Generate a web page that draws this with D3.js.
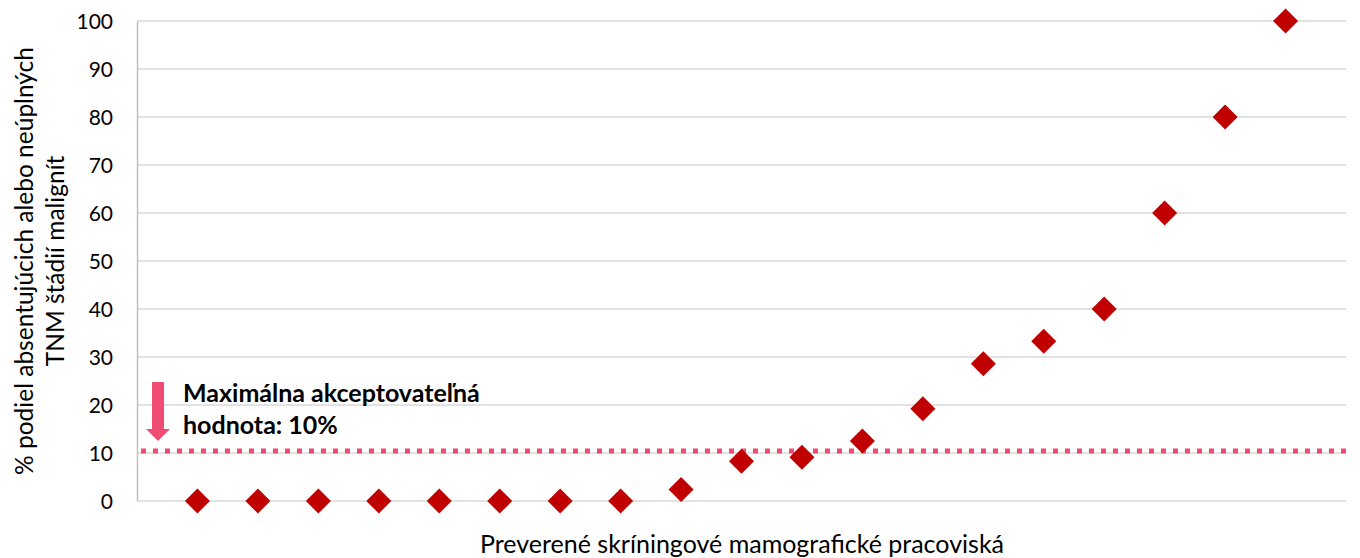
<!DOCTYPE html>
<html>
<head>
<meta charset="utf-8">
<script src="https://cdn.jsdelivr.net/npm/d3@7"></script>
<style>
  body { margin: 0; background: #fff; }
  svg { font-family: Lato, "Open Sans", sans-serif; }
</style>
</head>
<body>
<svg id="chart" width="1360" height="558"></svg>
<script>
// data
var sites = d3.range(1, 20);   // 19 screening sites
var shares = [0, 0, 0, 0, 0, 0, 0, 0, 2.4, 8.3, 9.1, 12.5, 19.2, 28.6, 33.3, 40, 60, 80, 100];
var yTicks = [0, 10, 20, 30, 40, 50, 60, 70, 80, 90, 100];
var limitLine = [10.4];
var yTitle = ["% podiel absentujúcich alebo neúplných", "TNM štádií malignít"];
var xTitle = "Preverené skríningové mamografické pracoviská";
var note = ["Maximálna akceptovateľná", "hodnota: 10%"];

var svg = d3.select("#chart");
var m = { left: 137, right: 1346, top: 21, bottom: 501 };

var x = d3.scalePoint().domain(sites).range([m.left, m.right]).padding(1);
var y = d3.scaleLinear().domain([0, 100]).range([m.bottom, m.top]);

// grid
svg.append("g").selectAll("line")
  .data(yTicks.slice(1))
  .enter().append("line")
  .attr("x1", m.left).attr("x2", m.right)
  .attr("y1", function(d) { return y(d); })
  .attr("y2", function(d) { return y(d); })
  .attr("stroke", "#d9d9d9").attr("stroke-width", 1.5);

// axes
var yAxis = svg.append("g")
  .attr("transform", "translate(" + m.left + ",0)")
  .call(d3.axisLeft(y).tickValues(yTicks).tickSize(0).tickPadding(24))
  .attr("font-family", null);
yAxis.select(".domain").attr("stroke", "#bfbfbf").attr("stroke-width", 1.5);
yAxis.selectAll("text").attr("font-size", 21).attr("fill", "#000").attr("dy", "0.35em");

svg.append("line")
  .attr("x1", m.left).attr("x2", m.right)
  .attr("y1", y(0)).attr("y2", y(0))
  .attr("stroke", "#d9d9d9").attr("stroke-width", 1.5);

// limit line
svg.selectAll(".limit")
  .data(limitLine)
  .enter().append("line")
  .attr("class", "limit")
  .attr("x1", m.left + 4).attr("x2", m.right)
  .attr("y1", function(d) { return y(d); })
  .attr("y2", function(d) { return y(d); })
  .attr("stroke", "#ee4c72").attr("stroke-width", 5)
  .attr("stroke-dasharray", "5,7");

// arrow
var ax = 158;
svg.append("rect")
  .attr("x", ax - 6).attr("y", 382).attr("width", 12).attr("height", 48)
  .attr("fill", "#ee4c72");
svg.append("path")
  .attr("d", "M" + (ax - 12) + ",429 L" + (ax + 12) + ",429 L" + ax + ",441 Z")
  .attr("fill", "#ee4c72");

svg.append("g").selectAll("text")
  .data(note)
  .enter().append("text")
  .attr("x", 183)
  .attr("y", function(d, i) { return 402 + i * 32; })
  .attr("font-size", 25).attr("font-weight", "bold").attr("fill", "#000")
  .text(function(d) { return d; });

// markers
svg.append("g").selectAll("path")
  .data(shares)
  .enter().append("path")
  .attr("d", "M0,-12.5 L12.5,0 L0,12.5 L-12.5,0 Z")
  .attr("transform", function(d, i) { return "translate(" + x(sites[i]) + "," + y(d) + ")"; })
  .attr("fill", "#c00000");

// titles
svg.append("text")
  .attr("transform", "translate(0,261) rotate(-90)")
  .selectAll("tspan")
  .data(yTitle)
  .enter().append("tspan")
  .attr("x", 0)
  .attr("y", function(d, i) { return 33 + i * 31; })
  .attr("text-anchor", "middle")
  .attr("font-size", 24.5).attr("fill", "#000")
  .text(function(d) { return d; });

svg.append("text")
  .attr("x", 742).attr("y", 553)
  .attr("text-anchor", "middle")
  .attr("font-size", 25).attr("fill", "#000")
  .text(xTitle);
</script>
</body>
</html>
